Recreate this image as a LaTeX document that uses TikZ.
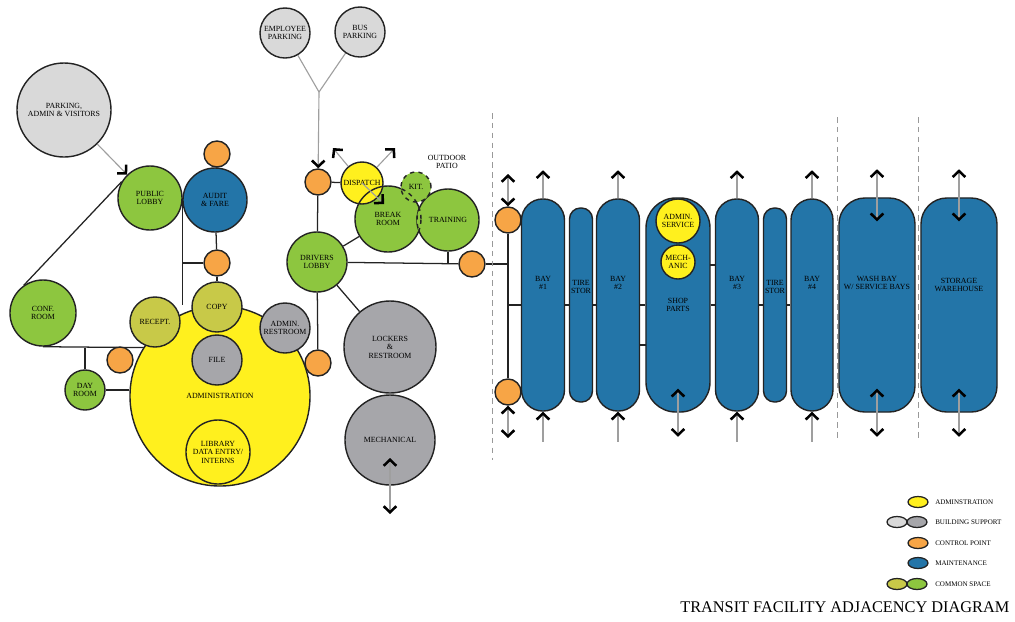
\documentclass[tikz,border=0pt]{standalone}
\usepackage{fontspec}
\setmainfont{Liberation Serif}
\usetikzlibrary{arrows.meta,backgrounds,shapes.geometric}

\definecolor{pkgray}{RGB}{217,217,217}
\definecolor{supgray}{RGB}{166,166,170}
\definecolor{cgreen}{RGB}{141,198,63}
\definecolor{olive}{RGB}{200,201,72}
\definecolor{ayellow}{RGB}{255,240,30}
\definecolor{cporange}{RGB}{247,165,70}
\definecolor{mblue}{RGB}{35,117,168}
\definecolor{rim}{RGB}{35,35,35}

\newcommand{\roomfont}{\fontsize{5.6}{6}\selectfont}
\newcommand{\keyfont}{\fontsize{5}{5.5}\selectfont}

\begin{document}
\begin{tikzpicture}[x=0.025cm, y=-0.025cm,
    chev/.tip={Straight Barb[length=4.3pt,width=9pt,line width=1.8pt,color=black]},
    rad/.style={minimum size=#1*0.5mm},
    room/.style={circle, draw=rim, line width=1pt, fill=#1,
                 inner sep=0pt, align=center, font=\roomfont},
    cp/.style={circle, draw=rim, line width=1pt, fill=cporange,
               minimum size=6.5mm, inner sep=0pt},
    bay/.style={rectangle, draw=rim, line width=1pt, fill=mblue,
                rounded corners=5.3mm, minimum width=10.75mm,
                minimum height=53mm, inner sep=0pt, align=center, font=\roomfont},
    bl/.style={font=\roomfont, align=center},
    outline/.style={draw=rim, line width=1pt},
    link/.style={draw=rim, line width=0.9pt},
    flow/.style={draw=gray!75, line width=0.8pt},
    zone/.style={draw=gray!80, line width=0.7pt, dash pattern=on 4pt off 3pt},
    key/.style={ellipse, draw=rim, line width=0.9pt, minimum width=5mm,
                minimum height=2.75mm, inner sep=0pt},
    keytxt/.style={font=\keyfont, anchor=west, inner sep=0pt}]

  \useasboundingbox (0,0) rectangle (1015,621);

  % parking
  \node[room=pkgray, rad=47] (parkAV) at (64,110) {PARKING,\\ADMIN \& VISITORS};
  \node[room=pkgray, rad=25] (empPark) at (285,33) {EMPLOYEE\\PARKING};
  \node[room=pkgray, rad=25] (busPark) at (360,32) {BUS\\PARKING};
  \coordinate (fork) at (319,92);

  % administration wing
  \node[room=ayellow, rad=90] (admin) at (220,396) {ADMINISTRATION};
  \node[room=ayellow, rad=32] (library) at (218,452) {LIBRARY\\DATA ENTRY/\\INTERNS};
  \node[room=olive, rad=25] (recept) at (155,322) {RECEPT.};
  \node[room=olive, rad=25] (copy) at (217,307) {COPY};
  \node[room=supgray, rad=25] (file) at (217,360) {FILE};
  \node[room=supgray, rad=25] (adminRR) at (285,328) {ADMIN.\\RESTROOM};
  \node[room=cgreen, rad=32] (pubLobby) at (150,198) {PUBLIC\\LOBBY};
  \node[room=mblue, rad=32] (audit) at (215,200) {AUDIT\\\& FARE};
  \node[room=cgreen, rad=33] (conf) at (43,313) {CONF.\\ROOM};
  \node[room=cgreen, rad=20] (day) at (85,390) {DAY\\ROOM};

  % drivers side
  \node[room=cgreen, rad=30] (drivers) at (317,262) {DRIVERS\\LOBBY};
  \node[room=supgray, rad=46] (lockers) at (390,347) {LOCKERS\\\&\\RESTROOM};
  \node[room=supgray, rad=45] (mech) at (390,440) {MECHANICAL};
  \node[room=cgreen, rad=33] (breakRm) at (388,219) {BREAK\\ROOM};
  \node[room=cgreen, rad=31] (training) at (448,220) {TRAINING};
  \begin{scope}
    \clip (breakRm.center) circle[radius=0.825cm];
    \fill[cgreen] (training.center) circle[radius=0.775cm];
    \draw[outline, dashed] (training.center) circle[radius=0.775cm];
  \end{scope}
  \begin{scope}
    \clip (training.center) circle[radius=0.775cm];
    \draw[outline, dashed] (breakRm.center) circle[radius=0.825cm];
  \end{scope}
  \node[room=cgreen, rad=15, dashed] (kit) at (416,187) {KIT.};
  \begin{scope}
    \clip (kit.center) circle[radius=0.375cm];
    \draw[outline, dashed] (breakRm.center) circle[radius=0.825cm];
    \draw[outline, dashed] (training.center) circle[radius=0.775cm];
  \end{scope}
  \node[room=ayellow, rad=21] (dispatch) at (362,183) {DISPATCH};
  \begin{scope}
    \clip (dispatch.center) circle[radius=0.525cm];
    \draw[outline] (breakRm.center) circle[radius=0.825cm];
  \end{scope}
  \node[bl] (patio) at (447,162) {OUTDOOR\\PATIO};

  % control points
  \node[cp] (cpAudit) at (217,154) {};
  \node[cp] (cpMid) at (217,263) {};
  \node[cp] (cpDisp) at (318,182) {};
  \node[cp] (cpRecept) at (120,360) {};
  \node[cp] (cpAdmin) at (318,363) {};
  \node[cp] (cpPatio) at (472,264) {};
  \node[cp] (cpBayTop) at (508,220) {};
  \node[cp] (cpBayBot) at (508,392) {};

  % maintenance bays
  \node[bay, label={[bl, yshift=5.5mm]center:BAY\\\#1}] (bay1) at (543,305) {};
  \node[bay, minimum width=5.75mm, minimum height=48.5mm, rounded corners=2.75mm,
        label={[bl, yshift=4.5mm]center:TIRE\\STOR}] (tire1) at (581,305) {};
  \node[bay, label={[bl, yshift=5.5mm]center:BAY\\\#2}] (bay2) at (618,305) {};
  \node[bay, minimum width=16mm, minimum height=53.5mm, rounded corners=7.5mm]
        (shop) at (678,305) {SHOP\\PARTS};
  \node[room=ayellow, rad=22] (adSvc) at (678,221) {ADMIN.\\SERVICE};
  \node[room=ayellow, rad=17] (mechanic) at (678,262) {MECH-\\ANIC};
  \node[bay, label={[bl, yshift=5.5mm]center:BAY\\\#3}] (bay3) at (737,305) {};
  \node[bay, minimum width=5.75mm, minimum height=48.5mm, rounded corners=2.75mm,
        label={[bl, yshift=4.5mm]center:TIRE\\STOR}] (tire2) at (775,305) {};
  \node[bay, minimum width=10.5mm, label={[bl, yshift=5.5mm]center:BAY\\\#4}] (bay4) at (812,305) {};
  \node[bay, minimum width=19mm, minimum height=53.5mm, rounded corners=6.5mm,
        label={[bl, yshift=5.5mm]center:WASH BAY\\W/ SERVICE BAYS}] (wash) at (877,305) {};
  \node[bay, minimum width=19mm, minimum height=53.5mm, rounded corners=6.5mm,
        label={[bl, yshift=5mm]center:STORAGE\\WAREHOUSE}] (storage) at (959,305) {};

  % adjacency lines
  \begin{scope}[on background layer]
    \foreach \i/\j in {conf.125/pubLobby.150, cpAudit/audit, audit/cpMid, cpMid/copy,
                       cpDisp/dispatch, cpDisp/drivers, drivers/cpAdmin, drivers/breakRm,
                       drivers/lockers, drivers/cpPatio, conf.south/recept.south,
                       bay1/tire1, tire1/bay2, bay2/shop, shop/bay3, bay3/tire2, tire2/bay4,
                       cpBayTop/cpBayBot} {
      \draw[link] (\i) -- (\j);
    }
    \draw[link] (pubLobby.east) -- (pubLobby.east |- admin.north);
    \draw[link] (pubLobby.east |- cpMid) -- (cpMid);
    \draw[link] (day) -- (day |- recept.south);
    \draw[link] (day) -- (day -| admin.west);
    \draw[link] (training.south) -- (training.south |- cpPatio);
    \draw[link] (cpPatio) -- (cpPatio -| cpBayTop);
    \draw[link] (cpBayTop |- bay1) -- (bay1);
    \draw[link] ([yshift=-1cm]bay2.center) -- ([yshift=-1cm]shop.center);
    \draw[link] ([yshift=1cm]shop.center) -- ([yshift=1cm]bay3.center);
    \draw[flow] (empPark) -- (fork);
    \draw[flow] (busPark) -- (fork);
  \end{scope}

  % circulation arrows
  \draw[flow, -chev] (parkAV) -- (pubLobby);
  \draw[flow, -chev] (fork) -- (cpDisp);
  \coordinate (dNW) at (333,148);
  \coordinate (dNE) at (395,148);
  \coordinate (dSE) at (384,204);
  \draw[flow, -chev] (dispatch) -- (dNW);
  \draw[flow, -chev] (dispatch) -- (dNE);
  \draw[flow, -chev] (dispatch.center) -- (dSE);
  \coordinate (mechIn) at (390,458);
  \coordinate (mechOut) at (390,514);
  \draw[flow, chev-chev] (mechIn) -- (mechOut);
  \coordinate (inTop) at (508,174);
  \coordinate (inBot) at (508,438);
  \draw[flow, chev-chev] (inTop) -- (cpBayTop);
  \draw[flow, chev-chev] (cpBayBot) -- (inBot);
  \foreach \b in {bay1,bay2,bay3,bay4} {
    \coordinate (\b-up) at ([yshift=7mm]\b.north);
    \coordinate (\b-dn) at ([yshift=-7.5mm]\b.south);
    \draw[flow, -chev] (\b.north) -- (\b-up);
    \draw[flow, -chev] (\b-dn) -- (\b.south);
  }
  \foreach \b in {wash,storage} {
    \coordinate (\b-up) at ([yshift=7mm]\b.north);
    \coordinate (\b-in) at ([yshift=-6mm]\b.north);
    \coordinate (\b-low) at ([yshift=6mm]\b.south);
    \coordinate (\b-dn) at ([yshift=-6mm]\b.south);
    \draw[flow, chev-chev] (\b-up) -- (\b-in);
    \draw[flow, chev-chev] (\b-low) -- (\b-dn);
  }
  \coordinate (shop-low) at ([yshift=6mm]shop.south);
  \coordinate (shop-dn) at ([yshift=-6mm]shop.south);
  \draw[flow, chev-chev] (shop-low) -- (shop-dn);

  % zone limits
  \draw[zone] (492,113) -- (492,460);
  \draw[zone] (837,117) -- (837,440);
  \draw[zone] (918,117) -- (918,440);

  % legend
  \node[key, fill=ayellow] (kAdm) at (918,502) {};
  \node[key, fill=pkgray] (kSupA) at (897,522) {};
  \node[key, fill=supgray] (kSupB) at (917,522) {};
  \node[key, fill=cporange] (kCp) at (918,543) {};
  \node[key, fill=mblue] (kMaint) at (918,563) {};
  \node[key, fill=olive] (kComA) at (897,584) {};
  \node[key, fill=cgreen] (kComB) at (917,584) {};
  \foreach \n/\y/\t in {tAdm/502/ADMINSTRATION, tSup/522/BUILDING SUPPORT,
                        tCp/543/CONTROL POINT, tMaint/563/MAINTENANCE,
                        tCom/584/COMMON SPACE} {
    \node[keytxt] (\n) at (935,\y) {\t};
  }
  \node[font=\fontsize{11.6}{12}\selectfont, anchor=west, inner sep=0pt] (title)
        at (680,607) {TRANSIT FACILITY ADJACENCY DIAGRAM};
\end{tikzpicture}
\end{document}
